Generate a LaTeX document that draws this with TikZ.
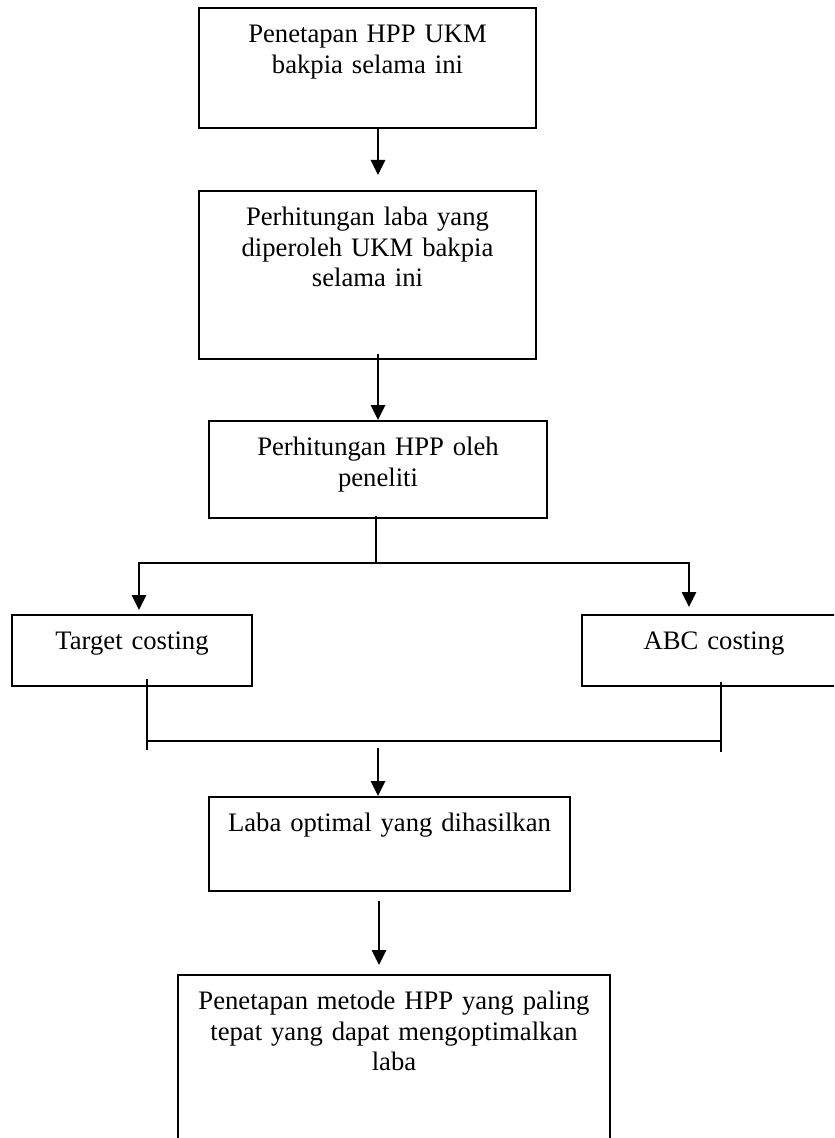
\documentclass[tikz,border=0pt]{standalone}
\usepackage{fontspec}
\setmainfont{Liberation Serif}
\usetikzlibrary{arrows.meta}

\tikzset{
	stepbox/.style={draw, line width=0.75pt, anchor=north, align=center,
		font=\fontsize{12pt}{13.7pt}\selectfont, inner xsep=2pt,
		inner ysep=6.75pt, text height=9pt},
	arr/.style={line width=0.75pt, -{Triangle[length=6.75pt, width=6.5pt]}},
	link/.style={line width=0.75pt}
}

\begin{document}
\begin{tikzpicture}[x=0.45pt, y=-0.45pt]
		\clip (0, 0) rectangle (834, 1138);

		\node [stepbox, text width=147.65pt, text depth=31.5pt] (hpp) at
		(367.5, 7) {Penetapan HPP UKM\\bakpia selama ini};

		\node [stepbox, text width=147.65pt, text depth=53.1pt] (laba) at
		(367.5, 190) {Perhitungan laba yang\\diperoleh UKM bakpia\\selama ini};

		\node [stepbox, text width=148.1pt, text depth=21.15pt] (hitung) at
		(378, 420) {Perhitungan HPP oleh\\peneliti};

		\node [stepbox, text width=104pt, text depth=9.45pt] (target) at
		(132, 614) {Target costing};

		\node [stepbox, text width=114.8pt, text depth=9.45pt] (abc) at
		(714, 614) {ABC costing};

		\node [stepbox, text width=158.45pt, text depth=19.8pt] (optimal) at
		(389.5, 796) {Laba optimal yang dihasilkan};

		\node [stepbox, text width=190.4pt, text depth=59pt] (metode) at
		(394, 974) {Penetapan metode HPP yang paling\\tepat yang dapat
		mengoptimalkan\\laba};

		% free ends of the connectors
		\coordinate (t1) at (378, 175);
		\coordinate (sp) at (376, 563);
		\coordinate (tl) at (139, 610);
		\coordinate (tr) at (689, 607);
		\coordinate (jl) at (147, 750);
		\coordinate (jr) at (721, 752);
		\coordinate (jm) at (378, 741);
		\coordinate (jd) at (378, 748);
		\coordinate (t5) at (379, 965);

		\draw [arr] (t1 |- hpp.south) -- (t1);
		\draw [arr] ([yshift=2.7pt]laba.south -| hitung.north) -- (hitung.north);

		\draw [link] ([yshift=1.35pt]hitung.south -| sp) -- (sp);
		\draw [arr] (sp) -| (tl);
		\draw [arr] (sp) -| (tr);

		\draw [link] ([yshift=3.6pt]target.south -| jl) -- (jl);
		\draw [link] ([yshift=2.25pt]abc.south -| jr) -- (jr);
		\draw [link] (jl |- jm) -- (jr |- jm);

		\draw [arr] (jd) -- (jd |- optimal.north);
		\draw [arr] ([yshift=-4pt]optimal.south -| t5) -- (t5);

	\end{tikzpicture}
\end{document}
